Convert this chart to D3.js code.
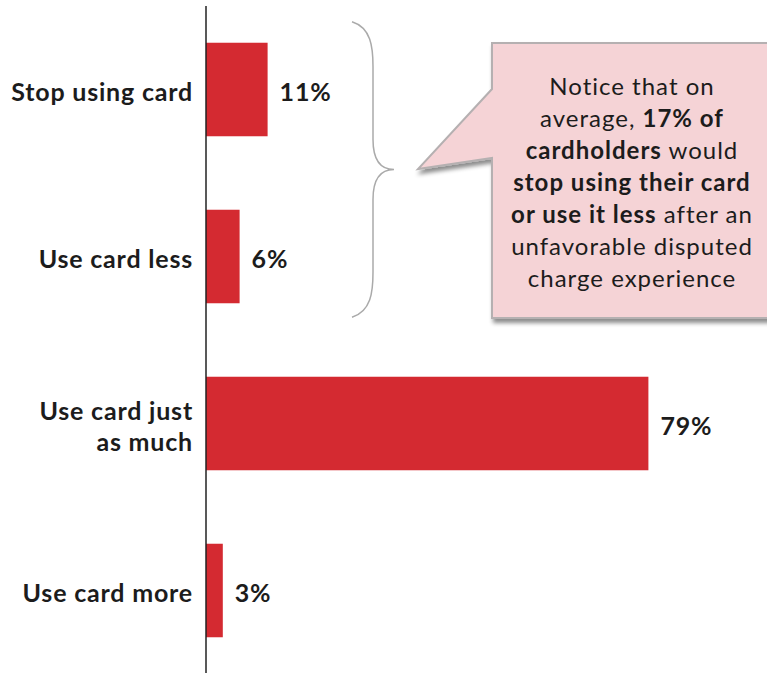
<!DOCTYPE html>
<html>
<head>
<meta charset="utf-8">
<script src="https://cdn.jsdelivr.net/npm/d3@7"></script>
<style>
  body { margin: 0; background: #fff; }
  svg { display: block; }
  text { font-family: Lato, "Open Sans", sans-serif; fill: #1c1c1c; }
</style>
</head>
<body>
<svg id="chart" width="767" height="673"></svg>
<script>
// chart data
var categories = ["Stop using card", "Use card less", "Use card just as much", "Use card more"];
var categoryLines = [["Stop using card"], ["Use card less"], ["Use card just", "as much"], ["Use card more"]];
var values = [11, 6, 79, 3];

// callout text, each line is a list of [text, bold]
var calloutLines = [
	[["Notice that on", false]],
	[["average, ", false], ["17% of", true]],
	[["cardholders", true], [" would", false]],
	[["stop using their card", true]],
	[["or use it less", true], [" after an", false]],
	[["unfavorable disputed", false]],
	[["charge experience", false]]
];

var barColor = "#D42A31",
	calloutFill = "#F5D3D6",
	calloutStroke = "#B5B0B1",
	braceColor = "#AAAAAA";

var svg = d3.select("#chart");
var width = 767, height = 673;

var x = d3.scaleLinear().domain([0, 100]).range([206, 766]);
var y = d3.scaleBand().domain(categories).range([6, 674]).paddingInner(0.44).paddingOuter(0.22);

var defs = svg.append("defs");
var shadow = defs.append("filter").attr("id", "shadow")
	.attr("x", "-10%").attr("y", "-10%").attr("width", "130%").attr("height", "130%");
shadow.append("feDropShadow")
	.attr("dx", 2).attr("dy", 4).attr("stdDeviation", 2.2)
	.attr("flood-color", "#000").attr("flood-opacity", 0.45);

// bars
svg.selectAll(".bar").data(categories).enter()
	.append("rect")
	.attr("class", "bar")
	.attr("x", x(0))
	.attr("y", function(d){ return y(d); })
	.attr("width", function(d, i){ return x(values[i]) - x(0); })
	.attr("height", y.bandwidth())
	.attr("fill", barColor);

// value labels
svg.selectAll(".value").data(categories).enter()
	.append("text")
	.attr("class", "value")
	.attr("x", function(d, i){ return x(values[i]) + 12; })
	.attr("y", function(d){ return y(d) + y.bandwidth()/2 + 11; })
	.attr("font-size", "25px")
	.attr("font-weight", "bold")
	.attr("letter-spacing", "0.8px")
	.text(function(d, i){ return values[i] + "%"; });

// category labels
svg.selectAll(".cat").data(categories).enter()
	.append("text")
	.attr("class", "cat")
	.attr("text-anchor", "end")
	.attr("font-size", "25px")
	.attr("font-weight", "bold")
	.attr("letter-spacing", "0.8px")
	.each(function(d, i){
		var t = d3.select(this);
		var lines = categoryLines[i];
		var mid = y(d) + y.bandwidth()/2;
		lines.forEach(function(line, j){
			t.append("tspan")
				.attr("x", 193)
				.attr("y", mid + 11.5 + (j - (lines.length-1)/2) * 31)
				.text(line);
		});
	});

// axis line
svg.append("line")
	.attr("x1", x(0)).attr("x2", x(0))
	.attr("y1", 6).attr("y2", height)
	.attr("stroke", "#222").attr("stroke-width", 1.5);

// brace grouping the first two bars
var bTop = y(categories[0]) - 21,
	bBot = y(categories[1]) + y.bandwidth() + 14,
	bMid = (bTop + bBot)/2,
	bx0 = 352, bx1 = 373, bTip = 394;
var brace = "M" + bx0 + "," + bTop +
	" C" + (bx1 - 2) + "," + (bTop + 6) + " " + bx1 + "," + (bTop + 25) + " " + bx1 + "," + (bTop + 45) +
	" L" + bx1 + "," + (bMid - 30) +
	" C" + bx1 + "," + (bMid - 8) + " " + (bx1 + 8) + "," + bMid + " " + bTip + "," + bMid +
	" C" + (bx1 + 8) + "," + bMid + " " + bx1 + "," + (bMid + 8) + " " + bx1 + "," + (bMid + 30) +
	" L" + bx1 + "," + (bBot - 45) +
	" C" + bx1 + "," + (bBot - 25) + " " + (bx1 - 2) + "," + (bBot - 6) + " " + bx0 + "," + bBot;
svg.append("path")
	.attr("d", brace)
	.attr("fill", "none")
	.attr("stroke", braceColor)
	.attr("stroke-width", 1.5);

// callout box with pointer
var cx0 = 492, cy0 = 43, cx1 = 790, cy1 = 318;
var callout = "M" + cx0 + "," + cy0 + " L" + cx1 + "," + cy0 + " L" + cx1 + "," + cy1 +
	" L" + cx0 + "," + cy1 + " L" + cx0 + ",158 L418,169 L" + cx0 + ",89 Z";
svg.append("path")
	.attr("d", callout)
	.attr("fill", calloutFill)
	.attr("stroke", calloutStroke)
	.attr("stroke-width", 2)
	.attr("filter", "url(#shadow)");

var ct = svg.append("text")
	.attr("class", "callout")
	.attr("text-anchor", "middle")
	.attr("font-size", "24px")
	.attr("letter-spacing", "1px");
calloutLines.forEach(function(parts, i){
	var line = ct.append("tspan").attr("x", 632).attr("y", 95 + i*32);
	parts.forEach(function(p){
		line.append("tspan")
			.attr("font-weight", p[1] ? "bold" : "normal")
			.text(p[0]);
	});
});
</script>
</body>
</html>
